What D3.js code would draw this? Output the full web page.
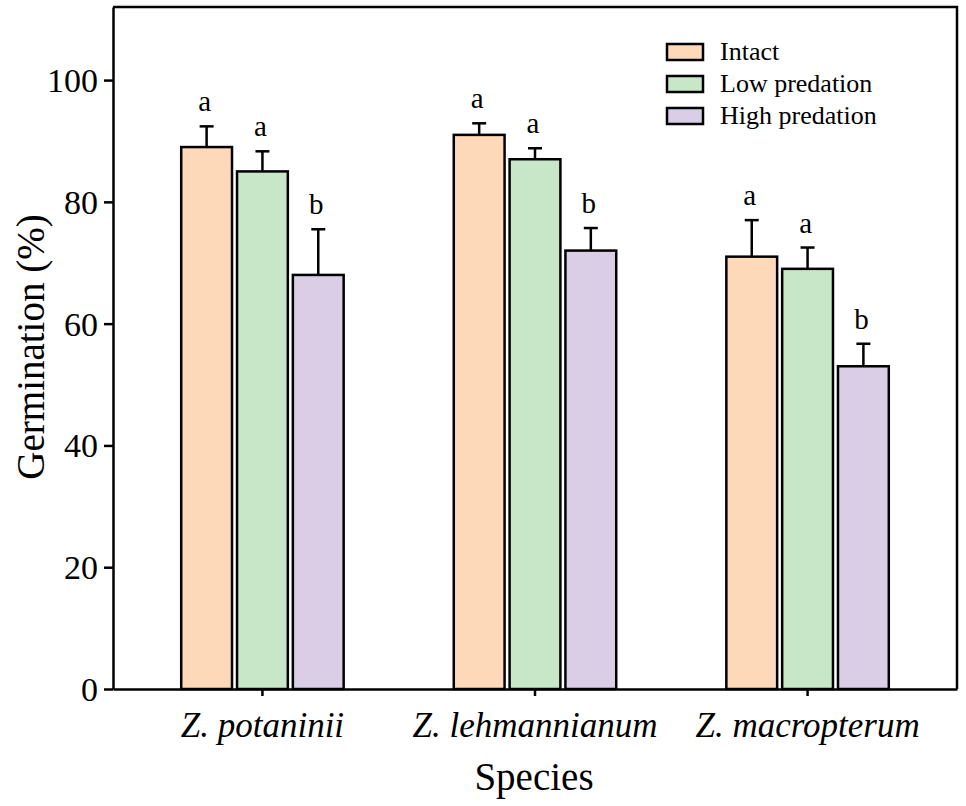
<!DOCTYPE html>
<html>
<head>
<meta charset="utf-8">
<script src="https://cdn.jsdelivr.net/npm/d3@7"></script>
<style>
  body { margin: 0; background: #fff; }
  text { font-family: "Liberation Serif", "Times New Roman", serif; fill: #000; }
</style>
</head>
<body>
<div id="chart"></div>
<script>
//************************  data *************************
var species = ["Z. potaninii", "Z. lehmannianum", "Z. macropterum"];
var treatments = ["Intact", "Low predation", "High predation"];

var intact = [89, 91, 71];
var intactErr = [3.4, 1.9, 6.0];
var intactLetters = ["a", "a", "a"];

var lowPred = [85, 87, 69];
var lowPredErr = [3.3, 1.8, 3.5];
var lowPredLetters = ["a", "a", "a"];

var highPred = [68, 72, 53];
var highPredErr = [7.5, 3.7, 3.7];
var highPredLetters = ["b", "b", "b"];

var yTicks = [0, 20, 40, 60, 80, 100];
var colors = ["#fdd9b9", "#c8e6c8", "#dacde6"];

var seriesValues = [intact, lowPred, highPred];
var seriesErr = [intactErr, lowPredErr, highPredErr];
var seriesLetters = [intactLetters, lowPredLetters, highPredLetters];

// flat table for drawing
var rows = [];
species.forEach(function(sp, i){
    treatments.forEach(function(tr, j){
        rows.push({species: sp, treatment: tr, value: seriesValues[j][i],
                   err: seriesErr[j][i], letter: seriesLetters[j][i], k: j});
    });
});

//************************  chart *************************
var W = 966, H = 806;
var margin = {top: 7, right: 9, bottom: 117, left: 113};
var width = W - margin.left - margin.right;
var height = H - margin.top - margin.bottom;
var serif = '"Liberation Serif", "Times New Roman", serif';

var svg = d3.select("#chart").append("svg")
    .attr("width", W)
    .attr("height", H)
    .append("g")
    .attr("transform", "translate(" + margin.left + "," + margin.top + ")");

var y = d3.scaleLinear()
    .domain([0, 112])
    .range([height, 0]);

var x0 = d3.scaleBand()
    .domain(species)
    .range([0, width])
    .paddingInner(0.3835)
    .paddingOuter(0.24);

var x1 = d3.scaleBand()
    .domain(treatments)
    .range([0, x0.bandwidth()])
    .paddingInner(0.09)
    .paddingOuter(0.05);

// frame top / right
svg.append("path")
    .attr("d", "M0,0H" + width + "V" + height)
    .attr("fill", "none")
    .attr("stroke", "#000")
    .attr("stroke-width", 2.5);

// bars
var groups = svg.selectAll(".grp")
    .data(species)
    .enter().append("g")
    .attr("class", "grp")
    .attr("transform", function(d){ return "translate(" + x0(d) + ",0)"; });

groups.selectAll(".bar")
    .data(function(d){ return rows.filter(function(r){ return r.species === d; }); })
    .enter().append("rect")
    .attr("class", "bar")
    .attr("x", function(d){ return x1(d.treatment); })
    .attr("y", function(d){ return y(d.value); })
    .attr("width", x1.bandwidth())
    .attr("height", function(d){ return y(0) - y(d.value); })
    .attr("fill", function(d){ return colors[d.k]; })
    .attr("stroke", "#000")
    .attr("stroke-width", 2.5);

// error bars (upper only)
var errs = groups.selectAll(".err")
    .data(function(d){ return rows.filter(function(r){ return r.species === d; }); })
    .enter().append("g")
    .attr("class", "err")
    .attr("transform", function(d){ return "translate(" + (x1(d.treatment) + x1.bandwidth() / 2) + ",0)"; });

errs.append("line")
    .attr("x1", 0).attr("x2", 0)
    .attr("y1", function(d){ return y(d.value); })
    .attr("y2", function(d){ return y(d.value + d.err); })
    .attr("stroke", "#000")
    .attr("stroke-width", 2.5);

errs.append("line")
    .attr("x1", -7).attr("x2", 7)
    .attr("y1", function(d){ return y(d.value + d.err); })
    .attr("y2", function(d){ return y(d.value + d.err); })
    .attr("stroke", "#000")
    .attr("stroke-width", 2.5);

errs.append("text")
    .attr("text-anchor", "middle")
    .attr("x", -2)
    .attr("y", function(d){ return y(d.value + d.err) - 15; })
    .style("font-size", "29px")
    .text(function(d){ return d.letter; });

// axes
var yAxis = d3.axisLeft(y)
    .tickValues(yTicks)
    .tickSize(9)
    .tickSizeOuter(0)
    .tickPadding(6);

var xAxis = d3.axisBottom(x0)
    .tickSize(7)
    .tickSizeOuter(0)
    .tickFormat(function(){ return ""; });

var gy = svg.append("g").attr("class", "y-axis").call(yAxis)
    .attr("font-family", serif);
gy.selectAll("text").style("font-size", "34px").attr("dy", "0.34em");

var gx = svg.append("g")
    .attr("class", "x-axis")
    .attr("transform", "translate(0," + height + ")")
    .call(xAxis);

svg.selectAll(".domain, .tick line")
    .attr("stroke", "#000")
    .attr("stroke-width", 2.5);

// category labels
svg.selectAll(".cat")
    .data(species)
    .enter().append("text")
    .attr("class", "cat")
    .attr("text-anchor", "middle")
    .attr("x", function(d){ return x0(d) + x0.bandwidth() / 2; })
    .attr("y", height + 48)
    .style("font-size", "35px")
    .style("font-style", "italic")
    .text(function(d){ return d; });

// axis titles
svg.append("text")
    .attr("text-anchor", "middle")
    .attr("x", width / 2 - 1)
    .attr("y", height + 101)
    .style("font-size", "39px")
    .text("Species");

svg.append("text")
    .attr("text-anchor", "middle")
    .attr("transform", "translate(" + (44 - margin.left) + "," + (347 - margin.top) + ") rotate(-90)")
    .style("font-size", "39px")
    .text("Germination (%)");

// legend
var legend = svg.append("g")
    .attr("transform", "translate(" + (667 - margin.left) + "," + (44 - margin.top) + ")");

var items = legend.selectAll(".leg")
    .data(treatments)
    .enter().append("g")
    .attr("class", "leg")
    .attr("transform", function(d, i){ return "translate(0," + (i * 32) + ")"; });

items.append("rect")
    .attr("width", 36)
    .attr("height", 16)
    .attr("fill", function(d, i){ return colors[i]; })
    .attr("stroke", "#000")
    .attr("stroke-width", 2.5);

items.append("text")
    .attr("x", 53)
    .attr("y", 16)
    .style("font-size", "26px")
    .text(function(d){ return d; });
</script>
</body>
</html>
